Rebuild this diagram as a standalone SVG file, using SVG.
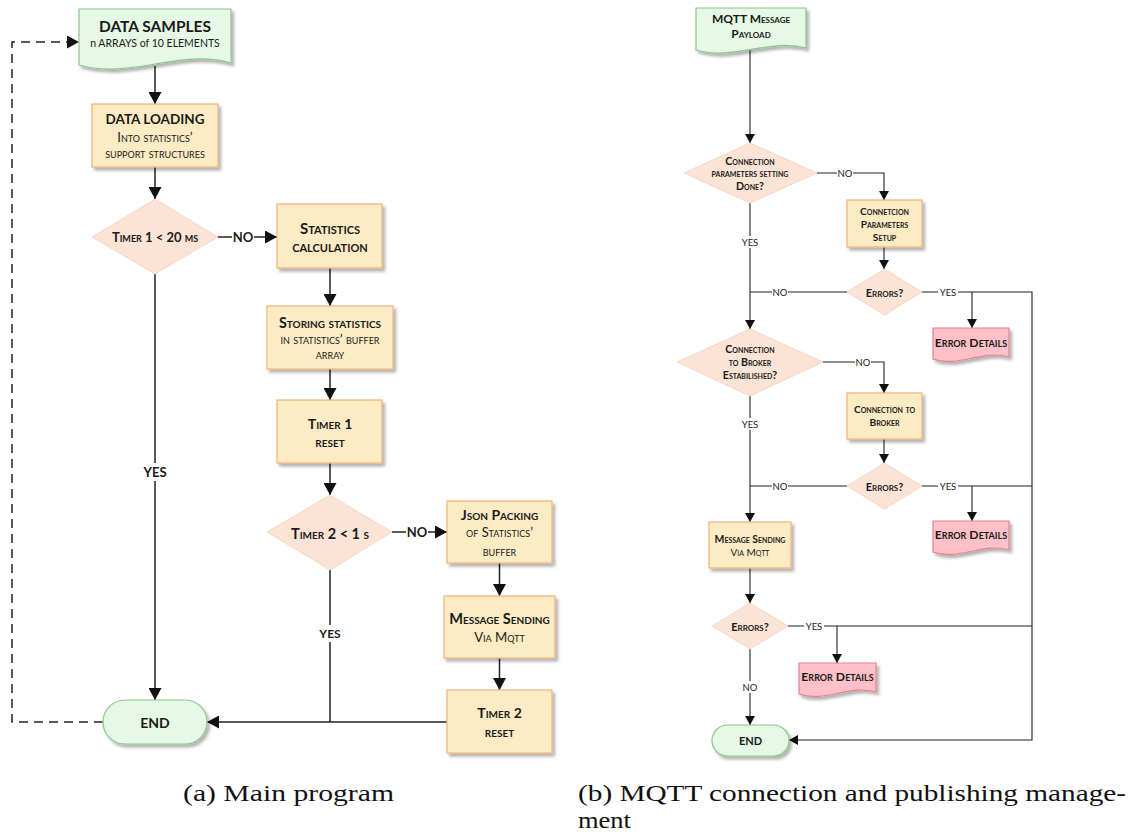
<svg xmlns="http://www.w3.org/2000/svg" width="1133" height="837" viewBox="0 0 1133 837">
<style>
.t{font-family:Lato,"Open Sans","Liberation Sans",sans-serif;fill:#1a1a1a;text-anchor:middle;dominant-baseline:central}
.sc{font-variant:small-caps}
.b{font-weight:bold}
.proc{fill:#fdebc4;stroke:#f0b27a;stroke-width:1.2}
.dec{fill:#fbe3d5;stroke:#f3d0bd;stroke-width:0.8}
.doc{fill:#e6f8e6;stroke:#8cc48c;stroke-width:1.2}
.err{fill:#ffc0c7;stroke:#e8818c;stroke-width:1.2}
.term{fill:#e6f8e6;stroke:#8cc48c;stroke-width:1.2}
.c{fill:none;stroke:#222;stroke-width:1.5}
.cr{fill:none;stroke:#222;stroke-width:1.1}
.lbl{fill:#fff}
.cap{font-family:"Liberation Serif","DejaVu Serif",serif;fill:#111;font-size:24px}
</style>
<defs>
<filter id="sh" x="-10%" y="-10%" width="130%" height="140%">
<feDropShadow dx="2.5" dy="3" stdDeviation="1.4" flood-color="#000" flood-opacity="0.3"/>
</filter>
<marker id="a" markerUnits="userSpaceOnUse" markerWidth="13" markerHeight="13" refX="12" refY="6.5" orient="auto">
<path d="M0,0 L12,6.5 L0,13 z" fill="#111"/>
</marker>
<marker id="ar" markerUnits="userSpaceOnUse" markerWidth="10" markerHeight="10" refX="9" refY="5" orient="auto">
<path d="M0,0 L9,5 L0,10 z" fill="#111"/>
</marker>
</defs>

<!-- LEFT DIAGRAM -->
<g id="connectors-a">
<path class="c" d="M155,66 V104" marker-end="url(#a)"/>
<path class="c" d="M155,167 V199" marker-end="url(#a)"/>
<path class="c" d="M218,237 H277" marker-end="url(#a)"/>
<path class="c" d="M330,268 V306" marker-end="url(#a)"/>
<path class="c" d="M330,369 V400" marker-end="url(#a)"/>
<path class="c" d="M330,463 V495" marker-end="url(#a)"/>
<path class="c" d="M392,532 H447" marker-end="url(#a)"/>
<path class="c" d="M499.5,563 V596" marker-end="url(#a)"/>
<path class="c" d="M499.5,658 V690" marker-end="url(#a)"/>
<path class="c" d="M447,722 H207" marker-end="url(#a)"/>
<path class="c" d="M330,570 V722"/>
<path class="c" d="M155,274 V700" marker-end="url(#a)"/>
<path class="c" d="M103,722 H12 V42 H79" stroke-dasharray="9,6" stroke="#444" marker-end="url(#a)"/>
<rect class="lbl" x="232" y="229" width="22" height="16"/>
<text class="t b" x="243" y="237" font-size="13">NO</text>
<rect class="lbl" x="142" y="463" width="26" height="18"/>
<text class="t b" x="155" y="472" font-size="13">YES</text>
<rect class="lbl" x="406" y="524" width="22" height="16"/>
<text class="t b" x="417" y="532" font-size="13">NO</text>
<rect class="lbl" x="318" y="625" width="24" height="17"/>
<text class="t b" x="330" y="633" font-size="12">YES</text>
</g>

<g id="data-samples">
<path class="doc" filter="url(#sh)" d="M79,9 H231 V63 C180,48 130,80 79,65 Z"/>
<text class="t b" x="155" y="26" font-size="15.5">DATA SAMPLES</text>
<text class="t" x="155" y="43" font-size="10.5">n ARRAYS of 10 ELEMENTS</text>
</g>
<g id="data-loading">
<rect class="proc" filter="url(#sh)" x="92" y="104" width="126" height="63"/>
<text class="t b" x="155" y="119" font-size="13.5">DATA LOADING</text>
<text class="t sc" x="155" y="137" font-size="13">Into statistics’</text>
<text class="t sc" x="155" y="153" font-size="13">support structures</text>
</g>
<g id="timer1-check">
<polygon class="dec" points="155,199 218,237 155,274 92,237"/>
<text class="t b sc" x="155" y="237" font-size="13">Timer 1 &lt; 20 ms</text>
</g>
<g id="stat-calc">
<rect class="proc" filter="url(#sh)" x="277" y="204" width="105" height="64"/>
<text class="t b sc" x="330" y="228" font-size="15">Statistics</text>
<text class="t b sc" x="330" y="246" font-size="15">calculation</text>
</g>
<g id="storing">
<rect class="proc" filter="url(#sh)" x="267" y="306" width="126" height="63"/>
<text class="t b sc" x="330" y="322" font-size="14.3">Storing statistics</text>
<text class="t sc" x="330" y="339" font-size="13.5">in statistics’ buffer</text>
<text class="t sc" x="330" y="354" font-size="13.5">array</text>
</g>
<g id="timer1-reset">
<rect class="proc" filter="url(#sh)" x="277" y="400" width="105" height="63"/>
<text class="t b sc" x="330" y="423" font-size="14">Timer 1</text>
<text class="t b sc" x="330" y="441" font-size="14.5">reset</text>
</g>
<g id="timer2-check">
<polygon class="dec" points="330,495 392,532 330,570 267,532"/>
<text class="t b sc" x="330" y="533" font-size="14.5">Timer 2 &lt; 1 s</text>
</g>
<g id="json">
<rect class="proc" filter="url(#sh)" x="447" y="501" width="105" height="62"/>
<text class="t b sc" x="499.5" y="514" font-size="14">Json Packing</text>
<text class="t sc" x="499.5" y="532" font-size="12.8">of Statistics’</text>
<text class="t sc" x="499.5" y="551" font-size="12.8">buffer</text>
</g>
<g id="msg-send-a">
<rect class="proc" filter="url(#sh)" x="444" y="596" width="111" height="62"/>
<text class="t b sc" x="499.5" y="618" font-size="14.6">Message Sending</text>
<text class="t sc" x="499.5" y="637" font-size="13.2">Via Mqtt</text>
</g>
<g id="timer2-reset">
<rect class="proc" filter="url(#sh)" x="447" y="690" width="105" height="63"/>
<text class="t b sc" x="499.5" y="712" font-size="14">Timer 2</text>
<text class="t b sc" x="499.5" y="731" font-size="14.5">reset</text>
</g>
<g id="end-a">
<rect class="term" filter="url(#sh)" x="103" y="700" width="104" height="44" rx="22"/>
<text class="t b" x="155" y="722" font-size="14">END</text>
</g>

<!-- RIGHT DIAGRAM -->
<g id="connectors-b">
<path class="cr" d="M750,50 V143" marker-end="url(#ar)"/>
<path class="cr" d="M817,173 H884 V200" marker-end="url(#ar)"/>
<path class="cr" d="M884,247 V269" marker-end="url(#ar)"/>
<path class="cr" d="M847,292 H750"/>
<path class="cr" d="M750,203 V329" marker-end="url(#ar)"/>
<path class="cr" d="M922,292 H1032 V740 H789" marker-end="url(#ar)"/>
<path class="cr" d="M972,292 V328" marker-end="url(#ar)"/>
<path class="cr" d="M823,362 H884 V393" marker-end="url(#ar)"/>
<path class="cr" d="M884,439 V463" marker-end="url(#ar)"/>
<path class="cr" d="M847,486 H750"/>
<path class="cr" d="M922,486 H1032"/>
<path class="cr" d="M972,486 V521" marker-end="url(#ar)"/>
<path class="cr" d="M750,396 V522" marker-end="url(#ar)"/>
<path class="cr" d="M750,568 V603" marker-end="url(#ar)"/>
<path class="cr" d="M788,626 H1032"/>
<path class="cr" d="M837,626 V663" marker-end="url(#ar)"/>
<path class="cr" d="M750,649 V725" marker-end="url(#ar)"/>
<rect class="lbl" x="837" y="167" width="16" height="12"/>
<text class="t" x="845" y="173" font-size="9.5">NO</text>
<rect class="lbl" x="740" y="236" width="20" height="12"/>
<text class="t" x="750" y="242" font-size="9.5">YES</text>
<rect class="lbl" x="772" y="286" width="16" height="12"/>
<text class="t" x="780" y="292" font-size="9.5">NO</text>
<rect class="lbl" x="938" y="286" width="20" height="12"/>
<text class="t" x="948" y="292" font-size="9.5">YES</text>
<rect class="lbl" x="855" y="356" width="16" height="12"/>
<text class="t" x="863" y="362" font-size="9.5">NO</text>
<rect class="lbl" x="740" y="418" width="20" height="12"/>
<text class="t" x="750" y="424" font-size="9.5">YES</text>
<rect class="lbl" x="772" y="480" width="16" height="12"/>
<text class="t" x="780" y="486" font-size="9.5">NO</text>
<rect class="lbl" x="938" y="480" width="20" height="12"/>
<text class="t" x="948" y="486" font-size="9.5">YES</text>
<rect class="lbl" x="804" y="620" width="20" height="12"/>
<text class="t" x="814" y="626" font-size="9.5">YES</text>
<rect class="lbl" x="742" y="681" width="16" height="12"/>
<text class="t" x="750" y="687" font-size="9.5">NO</text>
</g>

<g id="mqtt-payload">
<path class="doc" filter="url(#sh)" d="M696,8 H806 V48 C770,38 733,61 696,50 Z"/>
<text class="t b sc" x="751" y="18" font-size="12">MQTT Message</text>
<text class="t b sc" x="751" y="33" font-size="12">Payload</text>
</g>
<g id="params-done">
<polygon class="dec" points="750,143 817,173 750,203 684,173"/>
<text class="t b sc" x="750" y="161" font-size="10.6">Connection</text>
<text class="t b sc" x="750" y="173" font-size="10.6">parameters setting</text>
<text class="t b sc" x="750" y="186" font-size="10.6">Done?</text>
</g>
<g id="params-setup">
<rect class="proc" filter="url(#sh)" x="847" y="200" width="75" height="47"/>
<text class="t b sc" x="884.5" y="211" font-size="10.2">Connetcion</text>
<text class="t b sc" x="884.5" y="224" font-size="10.2">Parameters</text>
<text class="t b sc" x="884.5" y="237" font-size="10.2">Setup</text>
</g>
<g id="errors-1">
<polygon class="dec" points="884.5,269 922,292 884.5,315 847,292"/>
<text class="t b sc" x="884.5" y="292" font-size="11">Errors?</text>
</g>
<g id="error-details-1">
<path class="err" filter="url(#sh)" d="M933,328 H1009 V357 C984,349 958,368 933,359 Z"/>
<text class="t b sc" x="971" y="342" font-size="12.2">Error Details</text>
</g>
<g id="broker-established">
<polygon class="dec" points="750,329 823,362 750,396 677,362"/>
<text class="t b sc" x="750" y="349" font-size="10.6">Connection</text>
<text class="t b sc" x="750" y="362" font-size="10.6">to Broker</text>
<text class="t b sc" x="750" y="375" font-size="10.6">Estabilished?</text>
</g>
<g id="broker-connect">
<rect class="proc" filter="url(#sh)" x="847" y="393" width="75" height="46"/>
<text class="t b sc" x="884.5" y="409" font-size="10.2">Connection to</text>
<text class="t b sc" x="884.5" y="422" font-size="10.2">Broker</text>
</g>
<g id="errors-2">
<polygon class="dec" points="884.5,463 922,486 884.5,509 847,486"/>
<text class="t b sc" x="884.5" y="486" font-size="11">Errors?</text>
</g>
<g id="error-details-2">
<path class="err" filter="url(#sh)" d="M933,521 H1009 V550 C984,542 958,561 933,552 Z"/>
<text class="t b sc" x="971" y="534" font-size="12.2">Error Details</text>
</g>
<g id="msg-send-b">
<rect class="proc" filter="url(#sh)" x="709" y="522" width="82" height="46"/>
<text class="t b sc" x="750" y="539" font-size="10.4">Message Sending</text>
<text class="t sc" x="750" y="552" font-size="10">Via Mqtt</text>
</g>
<g id="errors-3">
<polygon class="dec" points="750,603 788,626 750,649 712,626"/>
<text class="t b sc" x="750" y="626" font-size="11">Errors?</text>
</g>
<g id="error-details-3">
<path class="err" filter="url(#sh)" d="M799,663 H876 V692 C851,684 824,703 799,694 Z"/>
<text class="t b sc" x="837.5" y="676" font-size="12.2">Error Details</text>
</g>
<g id="end-b">
<rect class="term" filter="url(#sh)" x="712" y="725" width="77" height="31" rx="15.5"/>
<text class="t b" x="750.5" y="740.5" font-size="11">END</text>
</g>

<g id="captions">
<text class="cap" x="183" y="801" textLength="211" lengthAdjust="spacingAndGlyphs">(a) Main program</text>
<text class="cap" x="578" y="801" textLength="548" lengthAdjust="spacingAndGlyphs">(b) MQTT connection and publishing manage-</text>
<text class="cap" x="578" y="828" textLength="53" lengthAdjust="spacingAndGlyphs">ment</text>
</g>
</svg>
